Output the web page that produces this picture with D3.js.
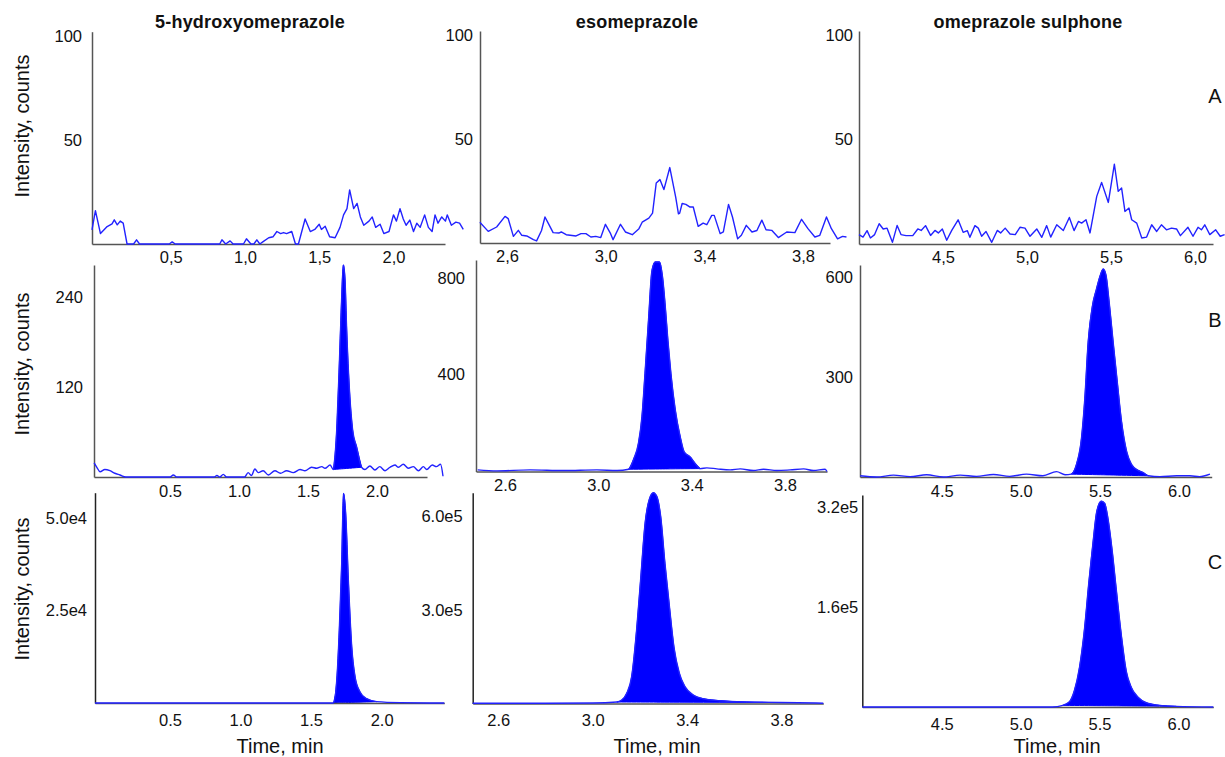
<!DOCTYPE html>
<html><head><meta charset="utf-8">
<script src="https://cdn.jsdelivr.net/npm/d3@7"></script>
<style>
body{margin:0;background:#fff}
svg{display:block}
text{font-family:"Liberation Sans",Arial,Helvetica,sans-serif;fill:#111}
</style>
</head><body>
<svg id="c" width="1225" height="757"></svg>
<script>
// ---------- categories / labels ----------
const compounds = ["5-hydroxyomeprazole", "esomeprazole", "omeprazole sulphone"];
const rowLetters = ["A", "B", "C"];
const yAxisTitle = "Intensity, counts";
const xAxisTitle = "Time, min";

// ---------- tick values ----------
const xTicks1 = [0.5, 1.0, 1.5, 2.0];
const xTicks2 = [2.6, 3.0, 3.4, 3.8];
const xTicks3 = [4.5, 5.0, 5.5, 6.0];
const yTicksA = [50, 100];
const yTicksB1 = [120, 240];
const yTicksB2 = [400, 800];
const yTicksB3 = [300, 600];
const yTicksC1 = [2.5e4, 5.0e4];
const yTicksC2 = [3.0e5, 6.0e5];
const yTicksC3 = [1.6e5, 3.2e5];

// ---------- series (time, min / intensity, counts) ----------
// Row A (blank) - 5-hydroxyomeprazole
const tA1 = [-0.03,-0.007,0.027,0.072,0.105,0.12,0.14,0.16,0.18,0.206,0.25,0.27,0.29,0.49,0.51,0.53,0.83,0.845,0.87,0.9,0.92,0.99,1.01,1.04,1.06,1.08,1.1,1.12,1.16,1.19,1.215,1.24,1.26,1.28,1.315,1.34,1.36,1.405,1.44,1.47,1.5,1.515,1.54,1.57,1.607,1.64,1.664,1.687,1.705,1.732,1.755,1.777,1.8,1.835,1.857,1.88,1.91,1.935,1.97,2.0,2.02,2.044,2.066,2.085,2.11,2.135,2.157,2.18,2.21,2.235,2.26,2.28,2.3,2.325,2.35,2.362,2.39,2.42,2.445,2.47];
const iA1 = [6.8,16,5,8.4,9.7,11.6,9.2,11,10,0,0,2,0,0,1,0,0,2,0,1.5,0,0,2.5,0,0,2,0,1,3,3.5,6,5,5.5,5,6,0,0,12,6,7,9.5,7,8.5,3.5,3,8,14,17,26,17,19.5,13,9,11,13,8,9.5,5,6,14,11,17,12,9,11.5,6,10,8,14,8,6,14,10,13,11,14,9,10.5,10,7];
// Row A - esomeprazole
const tA2 = [2.49,2.524,2.558,2.592,2.605,2.626,2.646,2.66,2.68,2.707,2.72,2.74,2.754,2.767,2.787,2.81,2.82,2.84,2.88,2.9,2.92,2.94,2.96,2.98,2.999,3.02,3.03,3.06,3.08,3.108,3.135,3.148,3.175,3.19,3.205,3.22,3.236,3.26,3.284,3.295,3.3,3.31,3.325,3.342,3.355,3.375,3.395,3.41,3.43,3.44,3.464,3.477,3.498,3.514,3.535,3.55,3.57,3.593,3.613,3.633,3.65,3.673,3.7,3.734,3.767,3.794,3.82,3.848,3.868,3.895,3.915,3.94,3.96,3.976];
const iA2 = [10,5.6,7.7,12.8,11.7,3.2,6.1,3.7,3.4,1.6,1,6,12.5,9.6,5,4.8,5.3,4,3.4,4.5,4.5,2.9,3.2,2.6,9,4.5,1.6,9,5.3,4,6.9,10,12,14.4,28.9,30.5,25.7,36.3,22,14,14.4,19,18.6,17.3,17.3,8,9.6,8.8,13.3,13.3,4.5,5.3,18.6,12.5,2,3.7,8.5,5.3,6,11,6.4,6.1,2.6,5.3,5,11.4,6.9,2.9,3.7,12.5,6.9,2,3.2,2.9];
// Row A - omeprazole sulphone
const tA3 = [4.0,4.024,4.048,4.068,4.093,4.12,4.144,4.167,4.199,4.227,4.25,4.28,4.32,4.35,4.37,4.396,4.426,4.452,4.472,4.496,4.522,4.552,4.59,4.62,4.645,4.66,4.69,4.71,4.73,4.756,4.79,4.823,4.843,4.87,4.899,4.93,4.958,4.988,5.018,5.058,5.088,5.117,5.141,5.177,5.216,5.252,5.28,5.306,5.325,5.351,5.375,5.415,5.444,5.484,5.52,5.543,5.563,5.583,5.607,5.623,5.653,5.683,5.712,5.742,5.772,5.8,5.83,5.86,5.89,5.913,5.958,5.988,6.018,6.038,6.058,6.088,6.123,6.15,6.176];
const iA3 = [4.5,3.3,6.4,2.9,4.5,9.7,7.2,7.6,0.8,8.9,4.5,4,4,7.2,6.5,8.8,4.1,6.5,5.3,7.2,1.8,6.5,11.6,5.6,6.4,3.2,8.8,7.6,3.7,6,0.8,6.5,5.3,7.6,4.8,4.5,8,7.6,3.7,7.2,3.2,8.8,3.3,9.2,6.5,12.7,6.4,10.8,10,11.6,5.3,22.8,29.5,19.9,38.2,25.2,26.8,15.6,17.2,11.6,10,2.9,3.3,9.2,6,9.2,6.8,7.6,7.2,4,8,3.7,8,6.8,9.2,4.5,6.8,3.7,4.5];

// Row B (LLOQ) - 5-hydroxyomeprazole
const tB1 = [-0.05,-0.03,-0.007,0.028,0.065,0.1,0.137,0.18,0.5,0.524,0.55,0.82,0.84,0.86,0.886,0.91,1.04,1.066,1.09,1.115,1.14,1.175,1.213,1.26,1.3,1.345,1.393,1.442,1.478,1.526,1.562,1.6,1.623,1.66,1.683,1.69,1.708,1.727,1.744,1.756,1.768,1.78,1.8,1.823,1.852,1.888,1.912,1.948,1.985,2.02,2.058,2.094,2.13,2.155,2.19,2.227,2.263,2.3,2.336,2.36,2.4,2.43,2.46,2.478];
const iB1 = [19,13,7,10,8.4,5,2.7,0,0,2.7,0,0,2,0,3.5,0,0,5.8,2,10.7,5.8,8.4,2.7,8.4,5,8.4,5.8,10,8.4,13,11.6,13.8,11.6,16,10,18,63,151,240,283,263,196,116,63,40,13,10,14.7,9.3,13.8,8.4,13,16,13,17,11.6,13.8,8.4,13.8,10,16,13.8,17,1];
// Row B - esomeprazole
const tB2 = [2.483,2.565,2.708,2.851,2.994,3.08,3.13,3.15,3.172,3.187,3.2,3.215,3.23,3.244,3.262,3.275,3.287,3.298,3.311,3.33,3.351,3.368,3.394,3.415,3.437,3.465,3.508,3.565,3.608,3.665,3.708,3.765,3.822,3.88,3.922,3.972,3.98];
const iB2 = [6.6,2.5,6.6,3.9,6.6,3.9,9.3,48,117,227,405,625,831,866,866,804,680,543,405,253,143,81,60,33,12,15,11,6.6,10.7,3.9,9.3,3.9,6.6,10.7,3.9,9.3,0];
// Row B - omeprazole sulphone
const tB3 = [3.985,4.09,4.195,4.3,4.405,4.51,4.617,4.72,4.827,4.93,5.036,5.14,5.226,5.28,5.32,5.352,5.384,5.405,5.426,5.453,5.478,5.504,5.521,5.538,5.559,5.584,5.61,5.637,5.669,5.7,5.742,5.774,5.806,5.88,5.985,6.07,6.13,6.196];
const iB3 = [3.6,0,5.6,1,6.6,0,5.6,2,7.6,2,8.6,3.6,16,6.6,8.6,38,117,236,404,513,563,607,624,607,523,404,285,166,77,38,20,13,3.6,1,3.6,3.6,1,8.6];

// Row C (sample) - 5-hydroxyomeprazole
const tC1 = [-0.031,1.0,1.658,1.682,1.7,1.717,1.73,1.745,1.764,1.788,1.812,1.847,1.894,1.965,2.13,2.444];
const iC1 = [0,0,0,6130,19660,37700,56700,51300,33300,15200,7030,2980,1170,360,90,0];
// Row C - esomeprazole
const tC2 = [2.4915,2.8,3.0,3.102,3.123,3.144,3.165,3.186,3.203,3.222,3.24,3.257,3.271,3.288,3.306,3.325,3.344,3.367,3.391,3.426,3.469,3.539,3.652,3.794,3.977];
const iC2 = [800,1000,1500,4800,11200,32700,86100,236000,397000,579000,656000,677000,666000,600000,450000,311000,182000,97000,54000,27300,15400,9000,4800,3200,1000];
// Row C - omeprazole sulphone
const tC3 = [3.9968,5.2,5.267,5.309,5.341,5.373,5.405,5.432,5.458,5.483,5.511,5.532,5.553,5.58,5.606,5.638,5.669,5.701,5.743,5.796,5.88,5.986,6.221];
const iC3 = [0,0,2600,8300,26500,63000,125000,198000,261000,313000,329000,326000,302000,250000,188000,115000,57800,31700,16100,6800,2600,1000,0];

// integrated peak windows (start, end) for rows B and C
const peakB = [[1.683, 1.888], [3.13, 3.437], [5.32, 5.806]];
const peakC = [[1.658, 1.965], [3.102, 3.794], [5.267, 5.986]];

// ---------- layout (pixel geometry, styles) ----------
const comma = f => (v => f(v).replace(".", ","));
const f1 = d3.format(".1f");
const fInt = d3.format("d");
const fExp = v => d3.format(".1e")(v).replace("e+", "e");

const panels = [
  {row:0,col:0,t:tA1,v:iA1,x:[92,445],td:[-0.03,2.347],y:[244,31.7],ymax:102,yT:yTicksA,yF:fInt,yPad:10,xT:xTicks1,xF:comma(f1),xPad:7},
  {row:0,col:1,t:tA2,v:iA2,x:[480,830],td:[2.4906,3.9093],y:[243,31],ymax:102,yT:yTicksA,yF:fInt,yPad:7,xT:xTicks2,xF:comma(f1),xPad:7},
  {row:0,col:2,t:tA3,v:iA3,x:[859,1213],td:[4.0,6.107],y:[244,31],ymax:102,yT:yTicksA,yF:fInt,yPad:6,xT:xTicks3,xF:comma(f1),xPad:7},
  {row:1,col:0,t:tB1,v:iB1,x:[94,427],td:[-0.0507,2.362],y:[477,265],ymax:283,yT:yTicksB1,yF:fInt,yPad:11,xT:xTicks1,xF:f1,xPad:8,peak:peakB[0]},
  {row:1,col:1,t:tB2,v:iB2,x:[476,827],td:[2.4757,3.98],y:[471.5,260],ymax:874,yT:yTicksB2,yF:fInt,yPad:11,xT:xTicks2,xF:f1,xPad:8,peak:peakB[1]},
  {row:1,col:2,t:tB3,v:iB3,x:[860,1211.7],td:[3.9836,6.207],y:[477,265],ymax:636,yT:yTicksB3,yF:fInt,yPad:7,xT:xTicks3,xF:f1,xPad:8,peak:peakB[2]},
  {row:2,col:0,t:tC1,v:iC1,x:[95,444.3],td:[-0.031,2.444],y:[703,492.7],ymax:5.69e4,yT:yTicksC1,yF:fExp,yPad:8,xT:xTicks1,xF:f1,xPad:11,peak:peakC[0]},
  {row:2,col:1,t:tC2,v:iC2,x:[472.7,823.3],td:[2.4915,3.977],y:[703.5,492.7],ymax:6.77e5,yT:yTicksC2,yF:fExp,yPad:10,xT:xTicks2,xF:f1,xPad:11,peak:peakC[1]},
  {row:2,col:2,t:tC3,v:iC3,x:[862.3,1213.3],td:[3.9968,6.221],y:[707,495],ymax:3.39e5,yT:yTicksC3,yF:fExp,yPad:4,xT:xTicks3,xF:f1,xPad:11,peak:peakC[2]}
];

const AXIS = "#555";
const TRACE = "#2222ff";
const FILL = "#0000ff";

const svg = d3.select("#c");

panels.forEach(p => {
  const xs = d3.scaleLinear().domain(p.td).range(p.x);
  const ys = d3.scaleLinear().domain([0, p.ymax]).range(p.y);
  const g = svg.append("g");
  const data = p.t.map((t, i) => ({t, v: p.v[i]}));

  // peak fill between integration baseline and trace
  if (p.peak) {
    const [s, e] = p.peak;
    const pts = data.filter(d => d.t >= s && d.t <= e);
    const vs = pts[0].v, ve = pts[pts.length - 1].v;
    const base = d3.scaleLinear().domain([s, e]).range([vs, ve]);
    g.append("path").datum(pts)
      .attr("fill", FILL)
      .attr("stroke", FILL).attr("stroke-width", 1)
      .attr("d", d3.area().curve(d3.curveMonotoneX).x(d => xs(d.t)).y0(d => ys(base(d.t))).y1(d => ys(d.v)));
  }

  // x axis
  const xa = g.append("g").attr("transform", `translate(0,${p.y[0]})`)
    .call(d3.axisBottom(xs).tickValues(p.xT).tickFormat(p.xF).tickSize(0).tickSizeOuter(0).tickPadding(p.xPad));
  xa.select(".domain").attr("stroke", AXIS).attr("stroke-width", 1.5);
  xa.selectAll("text").attr("font-size", 16.5).attr("fill", "#111")
    .attr("font-family", '"Liberation Sans",Arial,sans-serif');

  // y axis
  const ya = g.append("g").attr("transform", `translate(${p.x[0]},0)`)
    .call(d3.axisLeft(ys).tickValues(p.yT).tickFormat(p.yF).tickSize(0).tickSizeOuter(0).tickPadding(p.yPad));
  ya.select(".domain").attr("stroke", p.row === 2 ? "#222" : AXIS).attr("stroke-width", 1.5);
  ya.selectAll("text").attr("font-size", 16.5).attr("fill", "#111")
    .attr("font-family", '"Liberation Sans",Arial,sans-serif');

  // trace
  const line = d3.line().x(d => xs(d.t)).y(d => ys(d.v));
  if (p.peak) line.curve(d3.curveMonotoneX);
  g.append("path").datum(data)
    .attr("fill", "none").attr("stroke", TRACE).attr("stroke-width", 1.4)
    .attr("stroke-linejoin", "round")
    .attr("d", line);
});

// compound titles
const titleX = [250, 637, 1028];
compounds.forEach((c, i) => {
  svg.append("text").attr("x", titleX[i]).attr("y", 28)
    .attr("text-anchor", "middle").attr("font-weight", "bold")
    .attr("font-size", 18).attr("letter-spacing", 0.2).text(c);
});

// y axis titles
const yTitleY = [126, 364, 589];
yTitleY.forEach(cy => {
  svg.append("text").attr("transform", `translate(29,${cy}) rotate(-90)`)
    .attr("text-anchor", "middle").attr("font-size", 20).text(yAxisTitle);
});

// x axis titles
const xTitleX = [280, 657, 1057];
xTitleX.forEach(cx => {
  svg.append("text").attr("x", cx).attr("y", 753)
    .attr("text-anchor", "middle").attr("font-size", 20).text(xAxisTitle);
});

// row letters
const letterY = [103, 327, 569];
rowLetters.forEach((l, i) => {
  svg.append("text").attr("x", 1215).attr("y", letterY[i])
    .attr("text-anchor", "middle").attr("font-size", 20).text(l);
});
</script>
</body></html>
